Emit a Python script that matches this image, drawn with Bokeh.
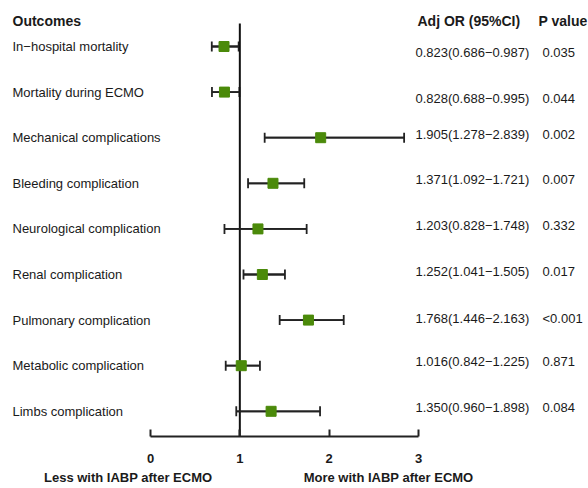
from bokeh.plotting import figure
from bokeh.models import Range1d, FixedTicker, Label, ColumnDataSource, Whisker, LinearAxis
from bokeh.core.properties import value
from bokeh.embed import file_html
from bokeh.resources import INLINE

outcomes = ["In\u2212hospital mortality", "Mortality during ECMO", "Mechanical complications",
            "Bleeding complication", "Neurological complication", "Renal complication",
            "Pulmonary complication", "Metabolic complication", "Limbs complication"]
adj_or = [0.823, 0.828, 1.905, 1.371, 1.203, 1.252, 1.768, 1.016, 1.350]
ci_low = [0.686, 0.688, 1.278, 1.092, 0.828, 1.041, 1.446, 0.842, 0.960]
ci_high = [0.987, 0.995, 2.839, 1.721, 1.748, 1.505, 2.163, 1.225, 1.898]
p_values = ["0.035", "0.044", "0.002", "0.007", "0.332", "0.017", "<0.001", "0.871", "0.084"]
ticks = [0, 1, 2, 3]
direction_labels = ["Less with IABP after ECMO", "More with IABP after ECMO"]
null_value = 1

FONT = "Liberation Sans"
TXT = "#1a1a1a"
GREEN = "#4b8a0a"

W, H = 588, 488
px_per_unit = 268 / 3.0
x0_px = 150
x_start = -x0_px / px_per_unit
x_end = (W - x0_px) / px_per_unit
row_h = 45.6
row0 = 46
frame_h = 436
y_top = -row0 / row_h
y_bot = (frame_h - row0) / row_h

# small per-row vertical shift (in px) of the right-hand text columns, as in the reference
text_shift_px = [6, 6, -3, -4, -3, -3, -2, -4, -4]

rows = list(range(len(outcomes)))
or_text = [f"{o:.3f}({l:.3f}\u2212{h:.3f})" for o, l, h in zip(adj_or, ci_low, ci_high)]
left_x = [x_start + 12 / px_per_unit] * len(rows)
or_x = [x_start + 415 / px_per_unit] * len(rows)
p_x = [x_start + 542 / px_per_unit] * len(rows)
ty = [r + d / row_h for r, d in zip(rows, text_shift_px)]

src = ColumnDataSource(dict(y=rows, ty=ty, est=adj_or, lo=ci_low, hi=ci_high, name=outcomes,
                            ortxt=or_text, p=p_values, lx=left_x, ox=or_x, px=p_x))

p = figure(width=W, height=H, output_backend="svg", toolbar_location=None,
           x_range=Range1d(x_start, x_end), y_range=Range1d(y_bot, y_top),
           min_border_left=0, min_border_right=0, min_border_top=0, min_border_bottom=H - frame_h,
           outline_line_color=None, background_fill_color="white", border_fill_color="white")
p.grid.visible = False
p.yaxis.visible = False

ax = p.xaxis[0]
ax.ticker = FixedTicker(ticks=ticks)
ax.bounds = (ticks[0], ticks[-1])
ax.axis_line_width = 2
ax.axis_line_color = "#222222"
ax.major_tick_in = 7
ax.major_tick_out = 0
ax.major_tick_line_width = 2
ax.major_tick_line_color = "#222222"
ax.minor_tick_line_color = None
ax.major_label_text_font = FONT
ax.major_label_text_font_style = "bold"
ax.major_label_text_font_size = "13px"
ax.major_label_text_color = TXT
ax.major_label_standoff = 17

# second axis carrying the direction labels
dir_pos = [(0 + null_value) / 2 - 0.75, (null_value + ticks[-1]) / 2 + 0.665]
ax2 = LinearAxis(ticker=FixedTicker(ticks=dir_pos),
                 major_label_overrides={dir_pos[0]: direction_labels[0], dir_pos[1]: direction_labels[1]},
                 axis_line_color=None, major_tick_line_color=None, minor_tick_line_color=None,
                 major_tick_in=0, major_tick_out=0,
                 major_label_text_font=FONT, major_label_text_font_style="bold",
                 major_label_text_font_size="13px", major_label_text_color=TXT,
                 major_label_standoff=4)
p.add_layout(ax2, "below")

# reference line
p.segment(x0=[null_value], x1=[null_value], y0=[y_top + 23 / row_h], y1=[y_bot],
          line_color="#111111", line_width=2)

# CI lines and caps
p.segment(x0="lo", x1="hi", y0="y", y1="y", source=src, line_color="#222222", line_width=1.8)
w = Whisker(base="y", lower="lo", upper="hi", source=src, dimension="width",
            line_color="#222222", line_width=1.8)
for head in (w.upper_head, w.lower_head):
    head.size = 10
    head.line_width = 1.8
    head.line_color = "#222222"
p.add_layout(w)
p.scatter(x="est", y="y", source=src, marker="square", size=10,
          fill_color=GREEN, line_color=GREEN)

# text columns
p.text(x="lx", y="y", text="name", source=src, text_font=value(FONT), text_font_size="13px",
       text_color=TXT, text_baseline="middle", text_align="left")
p.text(x="ox", y="ty", text="ortxt", source=src, text_font=value(FONT), text_font_size="13px",
       text_color=TXT, text_baseline="middle", text_align="left")
p.text(x="px", y="ty", text="p", source=src, text_font=value(FONT), text_font_size="13px",
       text_color=TXT, text_baseline="middle", text_align="left")

# headers
for txt, xp in [("Outcomes", 12), ("Adj OR (95%CI)", 417), ("P value", 538)]:
    p.add_layout(Label(x=x_start + xp / px_per_unit, y=y_top + 20 / row_h, text=txt,
                       text_font=FONT, text_font_size="14px", text_font_style="bold",
                       text_color=TXT, text_baseline="middle", text_align="left"))

open("out.html", "w").write(file_html(p, INLINE))
